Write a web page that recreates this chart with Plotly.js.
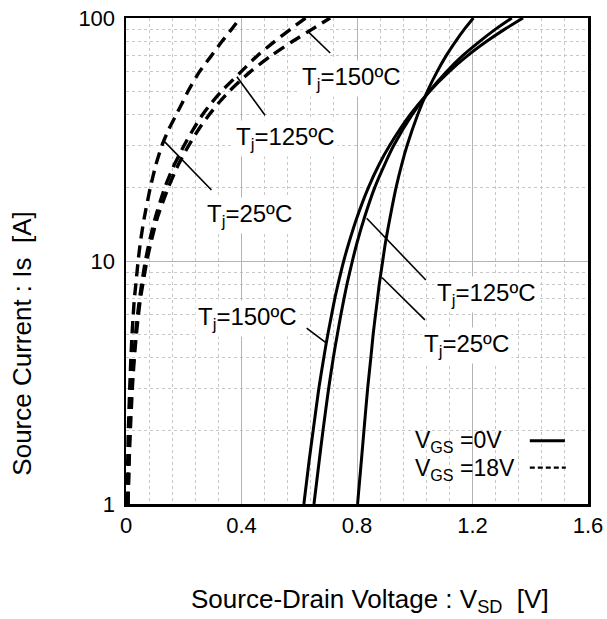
<!DOCTYPE html>
<html>
<head>
<meta charset="utf-8">
<script src="https://cdn.plot.ly/plotly-3.0.1.min.js"></script>
<style>html,body{margin:0;padding:0;background:#fff;}#chart{width:607px;height:619px;}</style>
</head>
<body>
<div id="chart"></div>
<script>
// ---- Data ----
// VGS = 0V (body diode), solid lines
const currentSolid = [1, 1.5, 2, 3, 4, 5, 6, 7, 8, 10, 12, 15, 20, 25, 30, 40, 50, 60, 70, 80, 90, 100];
const vsdSolid25  = [0.802, 0.815, 0.824, 0.837, 0.848, 0.856, 0.864, 0.871, 0.877, 0.889, 0.899, 0.914, 0.935, 0.955, 0.974, 1.010, 1.044, 1.077, 1.109, 1.141, 1.172, 1.203];
const vsdSolid125 = [0.651, 0.669, 0.682, 0.702, 0.718, 0.732, 0.744, 0.755, 0.765, 0.784, 0.801, 0.825, 0.861, 0.896, 0.928, 0.991, 1.051, 1.109, 1.166, 1.224, 1.280, 1.336];
const vsdSolid150 = [0.616, 0.634, 0.648, 0.668, 0.685, 0.699, 0.712, 0.723, 0.734, 0.754, 0.773, 0.799, 0.839, 0.877, 0.914, 0.984, 1.052, 1.118, 1.183, 1.248, 1.312, 1.375];
// VGS = 18V (channel), dashed lines
const currentDash = [1, 1.5, 2, 3, 4, 5, 6, 7, 8, 10, 12, 15, 20, 25, 30, 35, 40, 45, 50, 60, 70, 80, 90, 100];
const vsdDash25  = [0.004, 0.006, 0.008, 0.013, 0.017, 0.021, 0.025, 0.029, 0.034, 0.042, 0.050, 0.063, 0.084, 0.104, 0.125, 0.149, 0.174, 0.196, 0.215, 0.254, 0.296, 0.332, 0.366, 0.395];
const vsdDash125 = [0.007, 0.010, 0.013, 0.020, 0.027, 0.033, 0.040, 0.047, 0.054, 0.067, 0.081, 0.101, 0.134, 0.168, 0.202, 0.234, 0.265, 0.298, 0.331, 0.398, 0.455, 0.514, 0.570, 0.622];
const vsdDash150 = [0.007, 0.011, 0.015, 0.022, 0.029, 0.036, 0.043, 0.050, 0.058, 0.072, 0.087, 0.108, 0.146, 0.182, 0.218, 0.253, 0.288, 0.323, 0.358, 0.430, 0.503, 0.576, 0.645, 0.707];
// Tick labels
const xTickVals = [0, 0.4, 0.8, 1.2, 1.6];
const xTickText = ["0", "0.4", "0.8", "1.2", "1.6"];
const yTickVals = [1, 10, 100];
const yTickText = ["1", "10", "100"];
// Labels
const labelTexts = ["T<sub>j</sub>=150ºC", "T<sub>j</sub>=125ºC", "T<sub>j</sub>=25ºC",
                    "T<sub>j</sub>=150ºC", "T<sub>j</sub>=125ºC", "T<sub>j</sub>=25ºC"];
const legendTexts = ["V<sub>GS</sub> =0V", "V<sub>GS</sub> =18V"];
const xTitle = "Source-Drain Voltage : V<sub>SD</sub>\u00a0\u00a0[V]";
const yTitle = "Source Current : Is\u00a0\u00a0[A]";

const FONT = "Liberation Sans, Arial, Helvetica, sans-serif";
const solidLine = {color: "#000", width: 3, shape: "spline", smoothing: 0.6};
const dashLine  = {color: "#000", width: 3.4, dash: "12px,7px", shape: "spline", smoothing: 0.6};

const traces = [
  {x: vsdSolid25,  y: currentSolid, mode: "lines", line: solidLine, name: "25 0V"},
  {x: vsdSolid125, y: currentSolid, mode: "lines", line: solidLine, name: "125 0V"},
  {x: vsdSolid150, y: currentSolid, mode: "lines", line: solidLine, name: "150 0V"},
  {x: vsdDash25,  y: currentDash, mode: "lines", line: dashLine, name: "25 18V"},
  {x: vsdDash125, y: currentDash, mode: "lines", line: dashLine, name: "125 18V"},
  {x: vsdDash150, y: currentDash, mode: "lines", line: dashLine, name: "150 18V"}
];

// label placement (paper coords)
const labelPos = [[0.489, 0.875], [0.346, 0.752], [0.268, 0.594], [0.264, 0.382], [0.781, 0.431], [0.738, 0.326]];
const pointerPos = [
  [0.394, 0.972, 0.442, 0.928],
  [0.240, 0.879, 0.301, 0.800],
  [0.084, 0.745, 0.185, 0.646],
  [0.391, 0.362, 0.434, 0.331],
  [0.521, 0.588, 0.649, 0.461],
  [0.554, 0.466, 0.647, 0.379]
];

const annotations = labelTexts.map((t, i) => ({
  text: t, xref: "paper", yref: "paper", x: labelPos[i][0], y: labelPos[i][1],
  xanchor: "center", yanchor: "middle", showarrow: false,
  bgcolor: "#fff", borderpad: 2, font: {family: FONT, size: 24, color: "#000"}
}));
legendTexts.forEach((t, i) => annotations.push({
  text: t, xref: "paper", yref: "paper", x: 0.621, y: [0.128, 0.072][i],
  xanchor: "left", yanchor: "middle", showarrow: false,
  font: {family: FONT, size: 23, color: "#000"}
}));
annotations.push({
  text: yTitle, xref: "paper", yref: "paper",
  x: -0.225, y: 0.33, xanchor: "center", yanchor: "middle", textangle: -90,
  showarrow: false, font: {family: FONT, size: 26, color: "#000"}
});
annotations.push({
  text: xTitle, xref: "paper", yref: "paper",
  x: 0.529, y: -0.198, xanchor: "center", yanchor: "middle",
  showarrow: false, font: {family: FONT, size: 26, color: "#000"}
});

const shapes = [
  {type: "rect", xref: "paper", yref: "paper", x0: 0.593, x1: 0.976, y0: 0.035, y1: 0.179,
   fillcolor: "#fff", line: {width: 0}, layer: "between"}
];
pointerPos.forEach(p => shapes.push({
  type: "line", xref: "paper", yref: "paper", x0: p[0], y0: p[1], x1: p[2], y1: p[3],
  line: {color: "#000", width: 1.6}
}));
shapes.push({type: "line", xref: "paper", yref: "paper", x0: 0.874, x1: 0.950, y0: 0.130, y1: 0.130,
  line: {color: "#000", width: 3}});
shapes.push({type: "line", xref: "paper", yref: "paper", x0: 0.874, x1: 0.952, y0: 0.075, y1: 0.075,
  line: {color: "#000", width: 2.2, dash: "5px,3px"}});

const layout = {
  width: 607, height: 619,
  margin: {l: 126, r: 19, t: 18, b: 115},
  paper_bgcolor: "#fff", plot_bgcolor: "#fff",
  showlegend: false,
  font: {family: FONT, size: 22, color: "#000"},
  xaxis: {
    range: [0, 1.6], tickvals: xTickVals, ticktext: xTickText,
    showline: true, mirror: true, linecolor: "#000", linewidth: 2.5,
    showgrid: true, gridcolor: "#b4b4b4", gridwidth: 1, zeroline: false,
    ticks: "", tickfont: {family: FONT, size: 22, color: "#000"},
    minor: {dtick: 0.08, showgrid: true, gridcolor: "#c8c8c8", griddash: "dot", gridwidth: 1}
  },
  yaxis: {
    type: "log", range: [0, 2], tickvals: yTickVals, ticktext: yTickText,
    showline: true, mirror: true, linecolor: "#000", linewidth: 2.5,
    showgrid: true, gridcolor: "#b4b4b4", gridwidth: 1, zeroline: false,
    ticks: "", ticklabelstandoff: 4, tickfont: {family: FONT, size: 22, color: "#000"},
    minor: {dtick: "D1", showgrid: true, gridcolor: "#c8c8c8", griddash: "dot", gridwidth: 1}
  },
  annotations: annotations,
  shapes: shapes
};

Plotly.newPlot("chart", traces, layout, {displayModeBar: false, staticPlot: true});
</script>
</body>
</html>
